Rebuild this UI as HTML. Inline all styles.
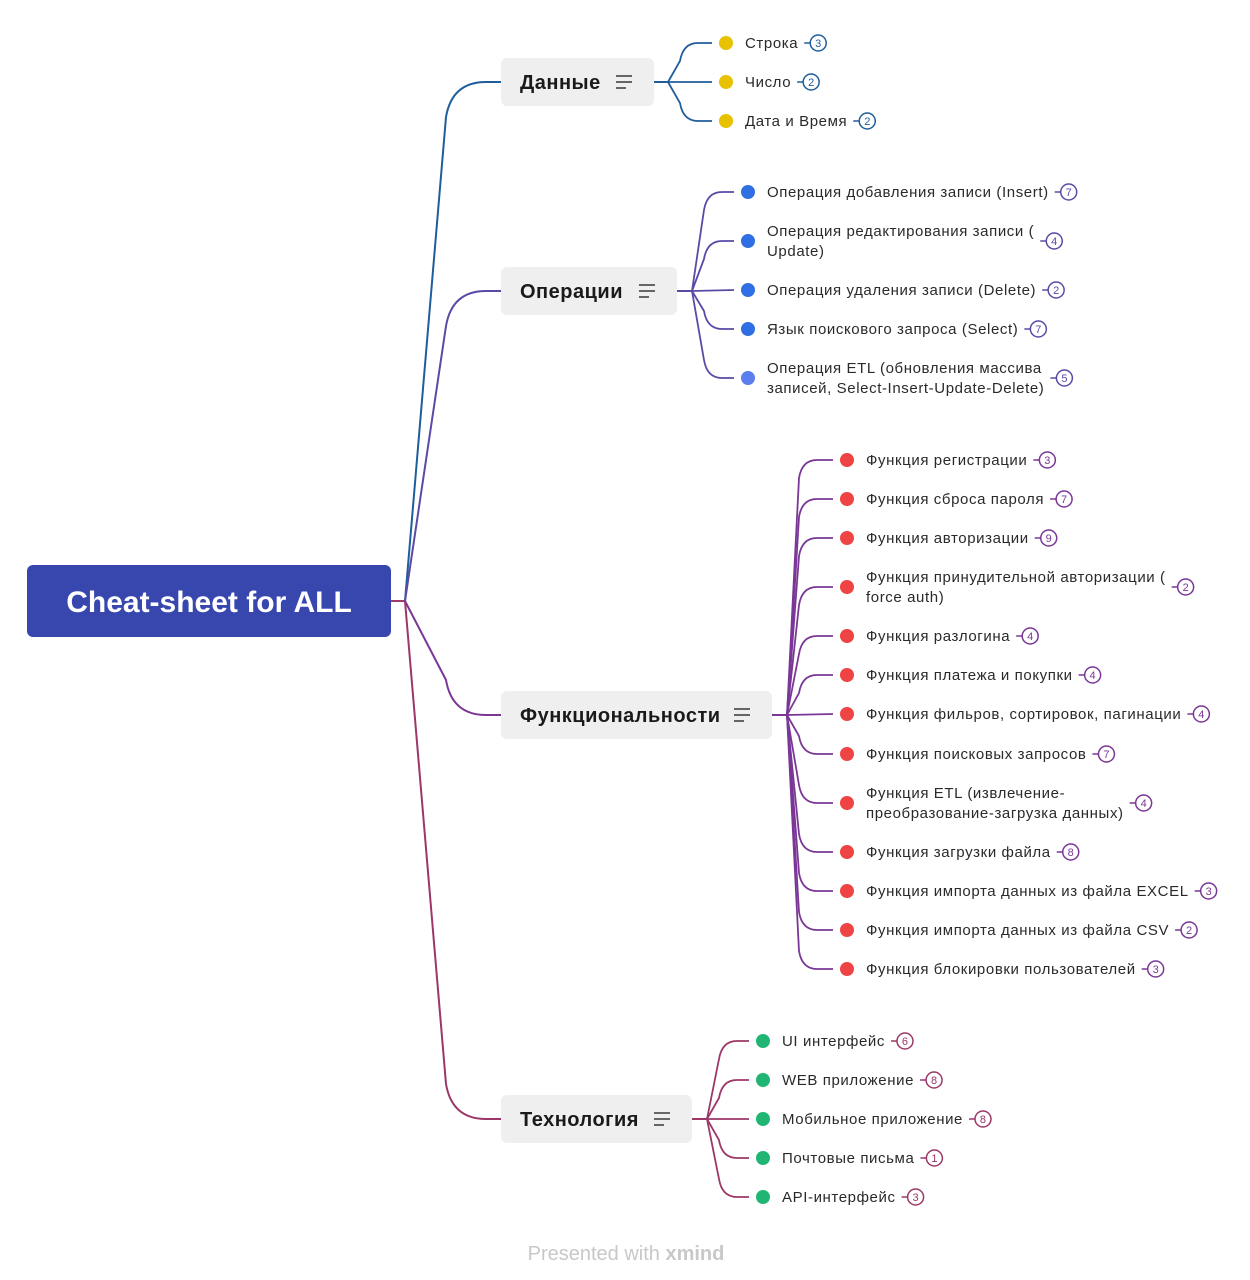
<!DOCTYPE html>
<html><head><meta charset="utf-8"><style>
body{margin:0;background:#fff;width:1250px;height:1280px;overflow:hidden;font-family:"Liberation Sans","DejaVu Sans",sans-serif}
svg{display:block}
</style></head><body>
<svg id="map" width="1250" height="1280">
<rect x="27" y="565" width="364" height="72" rx="6" fill="#3747ad"/>
<text x="209" y="612" text-anchor="middle" font-size="30" font-weight="bold" fill="#fff">Cheat-sheet for ALL</text>
<line x1="391" y1="601" x2="405" y2="601" stroke="#a03a6a" stroke-width="2"/>
<text x="626" y="1260" text-anchor="middle" font-size="20" fill="#c8c8c8">Presented with <tspan font-weight="bold">xmind</tspan></text>
</svg>
<script>
const topicNames=["Данные","Операции","Функциональности","Технология"];
const topicY=[82,291,715,1119];
const topicW=[153,176,271,191];
const topicColors=["#1f5d9c","#5a4aa6","#7a3796","#9c3768"];
const dotColors=["#e8c100","#2f6fe3","#ef4444","#21b573"];
const forkX=[668,692,787,707];
const leafTexts=[
 [["Строка"],["Число"],["Дата и Время"]],
 [["Операция добавления записи (Insert)"],["Операция редактирования записи (","Update)"],["Операция удаления записи (Delete)"],["Язык поискового запроса (Select)"],["Операция ETL (обновления массива","записей, Select-Insert-Update-Delete)"]],
 [["Функция регистрации"],["Функция сброса пароля"],["Функция авторизации"],["Функция принудительной авторизации (","force auth)"],["Функция разлогина"],["Функция платежа и покупки"],["Функция фильров, сортировок, пагинации"],["Функция поисковых запросов"],["Функция ETL (извлечение-","преобразование-загрузка данных)"],["Функция загрузки файла"],["Функция импорта данных из файла EXCEL"],["Функция импорта данных из файла CSV"],["Функция блокировки пользователей"]],
 [["UI интерфейс"],["WEB приложение"],["Мобильное приложение"],["Почтовые письма"],["API-интерфейс"]]
];
const leafY=[
 [43,82,121],
 [192,241,290,329,378],
 [460,499,538,587,636,675,714,754,803,852,891,930,969],
 [1041,1080,1119,1158,1197]
];
const leafCounts=[
 [3,2,2],[7,4,2,7,5],[3,7,9,2,4,4,4,7,4,8,3,2,3],[6,8,8,1,3]
];
const NS="http://www.w3.org/2000/svg";
const svg=document.getElementById('map');
const ctx=document.createElement('canvas').getContext('2d');
ctx.font='15px "Liberation Sans", sans-serif';
const LS=0.6;
function mk(tag,attrs,parent){const e=document.createElementNS(NS,tag);for(const k in attrs)e.setAttribute(k,attrs[k]);(parent||svg).appendChild(e);return e;}
topicNames.forEach((name,i)=>{
 const ty=topicY[i],col=topicColors[i];
 const s=ty<601?1:-1;
 const p=mk('path',{d:`M405 601 L${446} ${ty+s*35} Q${452} ${ty} ${486} ${ty} L501 ${ty}`,fill:'none',stroke:col,'stroke-width':2});
 
 
 const g=mk('g',{});
 
 
 mk('rect',{x:501,y:ty-24,width:topicW[i],height:48,rx:6,fill:'#efefef'},g);
 const t=mk('text',{x:520,y:ty+7,'font-size':20,'font-weight':'bold',fill:'#1a1a1a','letter-spacing':0.5},g);
 t.textContent=name;
 const ix=501+topicW[i]-38;
 [16,16,10].forEach((l,k)=>mk('line',{x1:ix,y1:ty-6+k*6,x2:ix+l,y2:ty-6+k*6,stroke:'#444','stroke-width':1.6},g));
 const fx=forkX[i];
 const hl=mk('line',{x1:501+topicW[i],y1:ty,x2:fx,y2:ty,stroke:col,'stroke-width':2});
 
 
 const dotX=fx+(i===2?60:i===3?56:i===0?58:56);
 leafTexts[i].forEach((lines,j)=>{
  const cy=leafY[i][j];
  const d=cy-ty, sg=Math.sign(d);
  const endX=dotX-14;
  let pd;
  if(Math.abs(d)<3) pd=`M${fx} ${ty} L${endX} ${cy}`;
  else{const r=Math.min(18,Math.abs(d));pd=`M${fx} ${ty} L${fx+12} ${cy-sg*r} Q${fx+15} ${cy} ${fx+30} ${cy} L${endX} ${cy}`;}
  const lp=mk('path',{d:pd,fill:'none',stroke:col,'stroke-width':1.8});
  
  
  const lg=mk('g',{});
  
  
  mk('circle',{cx:dotX,cy:cy,r:7,fill:(i===1&&j===4)?'#5b7ef0':dotColors[i]},lg);
  let w=0;
  lines.forEach((ln,k)=>{
   const yy=lines.length===1?cy+5:cy-5+k*20;
   const tt=mk('text',{x:dotX+19,y:yy,'font-size':15,fill:'#2a2a2a','letter-spacing':LS},lg);
   tt.textContent=ln;
   w=Math.max(w,ctx.measureText(ln).width+ln.length*LS);
  });
  const bx=dotX+19+w+6;
  mk('line',{x1:bx,y1:cy,x2:bx+6,y2:cy,stroke:col,'stroke-width':1.5},lg);
  mk('circle',{cx:bx+14,cy:cy,r:8,fill:'#fff',stroke:col,'stroke-width':1.5},lg);
  const bt=mk('text',{x:bx+14,y:cy+4,'font-size':11,'text-anchor':'middle',fill:col},lg);
  bt.textContent=leafCounts[i][j];
 });
});
</script>
</body></html>
